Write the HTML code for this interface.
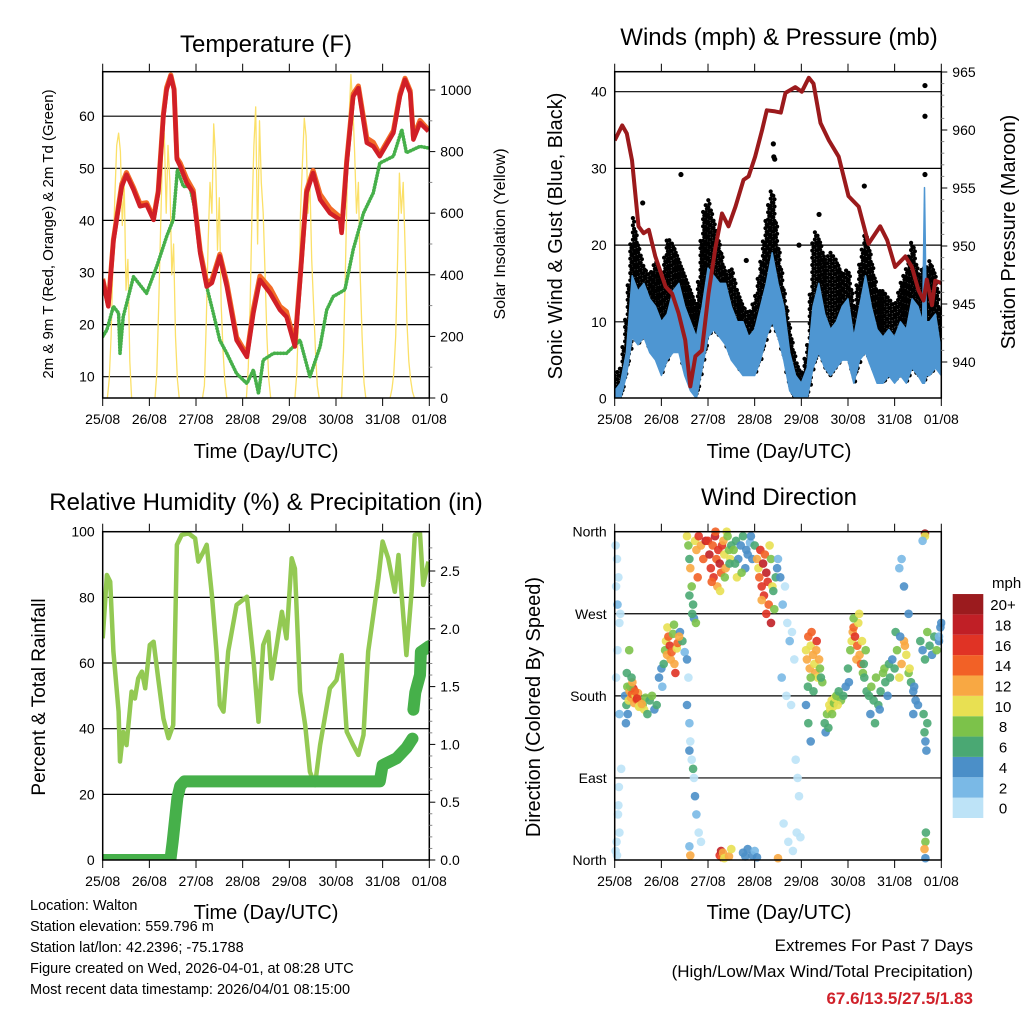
<!DOCTYPE html>
<html><head><meta charset="utf-8"><style>
body{margin:0;background:#fff;}
svg{display:block;font-family:"Liberation Sans",Arial,sans-serif;}
</style></head><body>
<svg id="s" width="1024" height="1024" viewBox="0 0 1024 1024" xmlns="http://www.w3.org/2000/svg">
<rect width="1024" height="1024" fill="#fff"/>
<g font-size="24" text-anchor="middle" fill="#000">
<text x="266" y="52">Temperature (F)</text>
<text x="779" y="45">Winds (mph) &amp; Pressure (mb)</text>
<text x="266" y="510">Relative Humidity (%) &amp; Precipitation (in)</text>
<text x="779" y="505">Wind Direction</text>
</g>
<g font-size="20" text-anchor="middle">
<text x="266" y="458">Time (Day/UTC)</text>
<text x="779" y="458">Time (Day/UTC)</text>
<text x="266" y="919">Time (Day/UTC)</text>
<text x="779" y="919">Time (Day/UTC)</text>
<text transform="translate(53,234) rotate(-90)" font-size="15">2m &amp; 9m T (Red, Orange) &amp; 2m Td (Green)</text>
<text transform="translate(505,234) rotate(-90)" font-size="16">Solar Insolation (Yellow)</text>
<text transform="translate(562,236) rotate(-90)">Sonic Wind &amp; Gust (Blue, Black)</text>
<text transform="translate(1015,232) rotate(-90)">Station Pressure (Maroon)</text>
<text transform="translate(45,697) rotate(-90)" font-size="19">Percent &amp; Total Rainfall</text>
<text transform="translate(540,707) rotate(-90)">Direction (Colored By Speed)</text>
</g>
<g font-size="14.5">
<text x="30" y="910">Location: Walton</text>
<text x="30" y="931">Station elevation: 559.796 m</text>
<text x="30" y="952">Station lat/lon: 42.2396; -75.1788</text>
<text x="30" y="973">Figure created on Wed, 2026-04-01, at 08:28 UTC</text>
<text x="30" y="994">Most recent data timestamp: 2026/04/01 08:15:00</text>
</g>
<g font-size="17" text-anchor="end">
<text x="973" y="951">Extremes For Past 7 Days</text>
<text x="973" y="977">(High/Low/Max Wind/Total Precipitation)</text>
<text x="973" y="1004" fill="#d0212a" font-weight="bold">67.6/13.5/27.5/1.83</text>
</g>
<g id="g"></g>
</svg>
<script>
// ---------- data ----------
const dayLabels=["25/08","26/08","27/08","28/08","29/08","30/08","31/08","01/08"];
const tempT=[0,0.12,0.23,0.41,0.51,0.66,0.8,0.94,1.09,1.19,1.3,1.37,1.46,1.53,1.59,1.66,1.8,1.94,2.09,2.23,2.34,2.51,2.66,2.87,3.09,3.23,3.37,3.59,3.8,3.94,4.12,4.23,4.37,4.51,4.66,4.87,5.09,5.12,5.23,5.37,5.48,5.66,5.8,5.94,6.23,6.37,6.48,6.59,6.66,6.8,6.98];
const tempRed=[28.6,23.5,36,46.5,48.8,45.9,42.7,43,40.1,45.3,60,65,67.7,65,51.7,50.4,47.2,45.3,33.7,27.3,28,33.1,27.3,17,13.8,22.2,28.6,26,22.8,21.5,15.8,28.6,45.3,49.1,44,41.4,40.1,37.6,51,63.8,65.4,54.9,54.2,52.3,56.8,63.8,67,64.5,55.5,58.7,57.1];
const tempOrange=[28.8,23.8,36.3,47,49.2,46.3,43.2,43.4,40.5,45.6,60.4,65.5,67.9,65.2,52,51,48,45.8,34.2,28,28.6,33.5,28,17.6,14.2,23,29.3,27,23.5,22.5,16.4,29,45.8,49.6,45,42.3,40.6,38,51.4,64.3,65.8,55.8,55,52.7,57.2,64.2,67.3,64.9,56,59.2,57.4];
const dewT=[0,0.09,0.23,0.34,0.37,0.44,0.66,0.94,1.16,1.37,1.51,1.6,1.73,1.87,2.01,2.09,2.23,2.37,2.51,2.66,2.87,3.09,3.23,3.34,3.44,3.66,3.94,4.23,4.44,4.66,4.8,4.94,5.19,5.37,5.59,5.8,5.94,6.23,6.41,6.51,6.8,6.98];
const dewV=[17.7,19,23.5,22.2,14.5,21.5,29.2,26,31.2,36.9,40.1,49.7,46.5,46.5,40.8,34.4,27.3,22.2,17,14.5,10.6,8.7,11.3,6.8,13.2,14.5,14.5,17,10,15.8,22.8,25.4,26.7,34.4,41.4,45.3,51,52.3,57.4,53,54.2,53.9];
const solarStart=[0.10,1.12,2.14,3.08,4.12,5.12,6.16];
const solarVals=[
 [0,60,200,450,650,820,860,800,560,700,350,450,120,0],
 [0,80,300,550,780,860,600,820,700,400,500,200,60,0],
 [0,40,250,500,700,600,890,780,480,650,300,150,50,0],
 [0,100,300,600,820,945,500,900,700,600,400,200,60,0],
 [0,80,280,600,760,908,850,600,700,450,300,150,40,0],
 [0,150,400,700,900,1050,950,800,600,700,400,200,50,0],
 [0,30,80,200,450,730,600,700,500,250,120,60,20,0]];
const solarStep=0.04;

const windT=[0,0.125,0.25,0.375,0.5,0.625,0.75,0.875,1,1.125,1.25,1.375,1.5,1.625,1.75,1.875,2,2.125,2.25,2.375,2.5,2.625,2.75,2.875,3,3.125,3.25,3.375,3.5,3.625,3.75,3.875,4,4.125,4.25,4.375,4.5,4.625,4.75,4.875,5,5.125,5.25,5.375,5.5,5.625,5.75,5.875,6,6.125,6.25,6.375,6.5,6.6,6.64,6.68,6.75,6.875,7];
const windHi=[1,2,6,16,14,15,13,12,10,11,14,15,12,10,8,12,17,16,15,15,12,10,10,8,9,12,15,19,15,12,6,3,2,4,12,15,11,9,10,12,13,8,12,16,12,9,8,9,8,10,9,13,12,10,27.5,10,10,11,6];
const windLo=[0,0,3,8,7,8,6,5,3,5,6,6,3,1,0,4,8,9,8,7,5,4,3,3,3,5,8,10,8,5,1,0,0,0,4,6,4,3,4,5,5,2,5,6,4,2,2,3,2,3,2,4,3,2,2,3,3,4,3];
const gustHi=[3,4,12,24,20,17,16,18,16,21,20,18,16,14,12,24,26,23,20,16,17,14,12,11,13,18,24,28,20,14,9,5,3,7,22,21,18,19,18,16,17,12,18,22,18,14,14,13,12,15,17,21,16,17,17,17,18,16,10];
const gustOutT=[0.6,1.42,2.82,3.4,3.41,3.43,5.35,6.65,6.65,6.65,4.38,3.95];
const gustOutV=[25.5,29.2,18,33.2,31.5,31.2,27.7,40.8,36.8,29.2,24,20];
const presT=[0,0.16,0.26,0.37,0.51,0.62,0.73,0.87,1.09,1.23,1.37,1.51,1.62,1.73,1.87,2.01,2.16,2.3,2.44,2.59,2.76,2.87,3.01,3.16,3.26,3.44,3.56,3.66,3.87,4.01,4.16,4.26,4.41,4.59,4.8,5.01,5.23,5.44,5.69,5.84,6.01,6.23,6.37,6.51,6.62,6.69,6.8,6.87,7.0];
const presV=[959.1,960.4,959.7,957.4,951.7,951.1,951.4,949.1,946.5,945.9,944.2,941.9,937.9,940.5,941,945.9,949.9,952.8,951.7,953.4,955.7,956,957.7,960,961.7,961.6,961.5,963.2,963.7,963.3,964.5,964,960.6,959.1,957.7,954.3,953.4,950.2,951.7,950.5,948.2,949.1,948.2,946.2,945.3,947.1,944.9,947,946.8];

const rhT=[0,0.09,0.16,0.23,0.34,0.37,0.44,0.51,0.62,0.69,0.76,0.84,0.91,1.01,1.09,1.19,1.3,1.41,1.51,1.59,1.69,1.84,1.98,2.05,2.16,2.23,2.34,2.44,2.51,2.59,2.69,2.87,3.09,3.23,3.34,3.44,3.55,3.62,3.84,3.94,4.05,4.12,4.23,4.34,4.44,4.55,4.66,4.87,5.01,5.12,5.23,5.37,5.48,5.59,5.69,5.8,5.91,6.0,6.12,6.26,6.34,6.51,6.62,6.69,6.8,6.87,6.98];
const rhV=[67.5,86.8,84.8,63.5,45.2,30,39,35,51.3,49.2,55.3,57.4,52.3,65.5,66.5,55.3,43.1,37.1,41.1,96,99,99.5,98,90.9,93.9,96,80.7,63.5,47.2,45.2,63.5,77.7,80.2,61.4,42.1,65.5,69.5,55.3,75.6,67.5,91.9,88.8,51.3,41.1,26.9,22.8,35,52.3,54.8,62.4,39.1,35,32,38.1,63.5,74.6,85.8,97,91.9,81.7,92.9,62.4,81.7,99,99.5,83.8,90.9];
const precT=[0,1.45,1.5,1.6,1.66,1.75,5.94,6.0,6.3,6.51,6.64,null,6.66,6.7,6.8,6.82,7.0];
const precV=[0,0,0.16,0.54,0.64,0.68,0.68,0.82,0.88,0.97,1.05,null,1.3,1.45,1.6,1.8,1.85];

const dirT=[0.02,0.03,0.05,0.06,0.08,0.1,0.12,0.04,0.07,0.09,0.02,0.05,0.08,0.1,0.03,0.06,0.1,0.14,
0.22,0.25,0.27,0.3,0.32,0.35,0.37,0.4,0.42,0.45,0.47,0.5,0.52,0.55,0.6,0.63,0.66,0.7,0.75,0.8,0.85,0.9,0.28,0.33,0.38,0.43,0.48,0.53,0.58,0.24,0.26,0.31,0.36,
0.95,1.0,1.05,1.08,1.1,1.12,1.15,1.18,1.2,1.22,1.25,1.28,1.3,1.33,1.35,1.4,1.45,1.5,1.55,1.02,1.13,1.27,1.38,
1.55,1.6,1.62,1.65,1.7,1.72,1.75,1.8,1.85,1.6,1.68,1.58,
1.55,1.58,1.6,1.62,1.65,1.68,1.7,1.72,1.75,1.78,1.8,1.85,1.9,1.95,1.6,1.66,1.74,
2.0,2.03,2.06,2.1,2.12,2.15,2.18,2.2,2.22,2.25,2.28,2.3,2.33,2.35,2.38,2.4,2.42,2.45,2.48,2.5,2.08,2.16,2.26,2.36,2.46,
2.55,2.6,2.65,2.7,2.75,2.8,2.85,2.9,2.95,3.0,2.62,2.72,2.82,2.92,2.58,
3.05,3.08,3.1,3.12,3.15,3.18,3.2,3.22,3.25,3.28,3.3,3.32,3.35,3.38,3.4,3.42,3.45,3.48,3.15,3.25,3.35,
3.5,3.55,3.6,3.65,3.7,3.75,3.8,3.85,3.58,3.68,3.78,3.88,3.92,3.95,3.62,3.72,3.82,3.9,3.98,
4.1,4.12,4.15,4.18,4.2,4.22,4.25,4.28,4.3,4.33,4.35,4.38,4.4,4.45,4.14,4.2,4.26,4.32,4.42,4.1,4.15,4.2,
4.5,4.55,4.6,4.62,4.65,4.68,4.7,4.72,4.75,4.8,4.85,4.9,4.52,4.58,4.66,4.78,4.95,
5.0,5.05,5.08,5.1,5.12,5.15,5.18,5.2,5.22,5.25,5.28,5.3,5.32,5.35,5.38,5.02,5.12,5.24,5.34,
5.4,5.45,5.5,5.55,5.6,5.65,5.7,5.75,5.8,5.85,5.9,5.48,5.58,5.68,5.78,5.88,
5.95,6.0,6.05,6.1,6.15,6.2,6.25,6.3,6.35,6.4,6.45,6.5,6.02,6.12,6.22,6.32,6.42,6.1,6.15,6.2,6.3,6.4,
6.55,6.6,6.65,6.7,6.75,6.8,6.85,6.9,6.95,7.0,6.62,6.64,6.66,6.68,6.7,6.65,6.65,6.66,6.67,6.64,6.66,6.95,6.98,6.6,
1.6,1.62,2.25,2.28,2.3,2.32,2.35,2.45,2.5,2.75,2.8,2.85,2.95,3.0,3.05,3.5];
const dirD=[345,300,330,280,310,260,270,20,50,80,10,5,60,30,200,230,160,100,
180,170,190,175,185,178,182,188,172,180,176,183,168,174,170,165,178,160,175,180,165,170,160,190,195,185,177,169,171,150,205,230,200,
200,210,215,230,240,225,245,235,220,228,248,215,205,232,238,250,240,228,220,190,255,258,245,
170,150,130,110,90,70,50,30,20,120,100,200,
355,345,330,320,300,280,265,350,340,310,355,345,330,350,290,270,260,
350,335,320,345,310,355,330,300,340,325,315,345,350,335,320,360,355,340,330,345,305,360,295,310,325,
340,350,330,345,355,320,335,348,330,345,310,315,340,355,325,
330,320,310,340,300,325,290,335,315,305,280,345,330,300,295,275,310,320,285,270,260,
330,310,280,300,260,240,250,220,200,180,170,110,90,70,40,20,10,30,25,
230,220,245,210,235,250,225,215,205,240,200,220,210,195,190,200,185,230,200,170,150,130,
150,160,170,165,175,168,172,178,180,185,175,180,140,145,160,170,190,
210,230,240,250,255,245,220,235,260,225,215,240,205,200,230,195,265,270,215,
185,180,190,175,200,170,185,205,195,180,200,160,150,165,210,215,
220,210,230,200,215,240,225,205,195,185,175,170,250,245,235,210,190,320,330,300,270,160,
240,230,220,250,235,225,245,230,240,260,160,140,130,120,150,358,355,20,30,12,2,245,255,350,
15,5,5,10,3,8,2,4,12,8,4,12,5,10,3,2];
const dirS=[0,1,0,2,1,0,1,0,0,1,0,1,0,0,1,0,2,0,
4,6,8,10,12,12,14,16,12,10,14,12,10,12,8,10,8,6,6,8,4,6,4,8,12,14,16,10,12,4,6,8,6,
4,4,6,8,10,12,14,16,12,14,8,12,16,10,14,4,6,2,4,2,10,8,12,
4,2,0,0,1,4,2,0,0,4,6,1,
10,8,6,12,8,6,4,10,12,14,16,12,14,18,6,6,8,
16,18,16,14,16,18,14,12,16,18,14,16,12,10,12,10,8,8,10,6,14,14,10,8,6,
8,6,4,4,6,4,4,2,4,6,10,8,4,4,6,
12,10,14,16,16,18,16,14,18,16,14,10,8,10,6,8,6,4,12,16,18,
2,4,2,0,0,2,0,0,2,0,0,0,0,1,0,0,0,1,0,
10,12,14,12,10,14,12,10,12,16,10,12,8,8,6,8,6,12,6,4,6,4,
6,8,10,10,10,10,8,10,8,6,8,6,4,6,8,10,4,
6,8,10,12,14,16,12,14,10,12,14,10,8,6,8,4,8,10,6,
6,6,8,6,8,6,6,8,6,4,6,4,6,4,8,6,
4,6,8,10,12,12,10,8,6,4,4,4,6,4,12,10,4,2,2,4,4,4,
6,4,6,8,6,4,6,8,4,4,6,6,4,4,6,20,10,8,6,12,4,2,4,2,
2,12,16,18,14,12,10,12,10,4,4,4,4,2,4,12];
const binLabels=["0","2","4","6","8","10","12","14","16","18","20+"];
const binColors=["#bde3f7","#7ab9e6","#4b8fc8","#4aa873","#7cc24a","#e8e052","#f8a843","#f26126","#e03325","#c01f26","#9b1b1e"];

// ---------- helpers ----------
const NS="http://www.w3.org/2000/svg";
const G=document.getElementById('g');
function mk(tag,attrs,parent){const e=document.createElementNS(NS,tag);for(const k in attrs)e.setAttribute(k,attrs[k]);(parent||G).appendChild(e);return e;}
function txt(x,y,s,anchor,size,parent){const e=mk('text',{x:x,y:y,'text-anchor':anchor,'font-size':size},parent);e.textContent=s;return e;}

const L=102.7,R=429.3,L2=614.7,R2=941.3;
const xA=d=>L+d*(R-L)/7, xB=d=>L2+d*(R2-L2)/7;
const yT=v=>376.7-(v-10)*5.21, yS=v=>398-v*0.308;
const yW=v=>398.5-v*7.67, yP=v=>72+(965-v)*11.6;
const yR=v=>860-v*3.283, yPr=v=>860-v*115.6;
const yD=v=>860-v*0.912;

function frame(x0,x1,y0,y1,xf,name){
  const g=mk('g',{});
  
  
  dayLabels.forEach((lab,i)=>{
    const x=xf(i);
    mk('line',{x1:x,x2:x,y1:y0-8,y2:y0,stroke:'#000','stroke-width':1},g);
    mk('line',{x1:x,x2:x,y1:y1,y2:y1+8,stroke:'#000','stroke-width':1},g);
    const t=txt(x,y1+26,lab,'middle',14,g);
    
    
  });
}
function box(x0,x1,y0,y1,name){
  const r=mk('rect',{x:x0,y:y0,width:x1-x0,height:y1-y0,fill:'none',stroke:'#000','stroke-width':1.5});
  
  
}
function hgrid(vals,yf,x0,x1,labels,lx,anchor,name){
  const g=mk('g',{});
  
  
  vals.forEach((v,i)=>{
    const y=yf(v);
    if(x1!==null) mk('line',{x1:x0,x2:x1,y1:y,y2:y,stroke:'#000','stroke-width':1.2},g);
    if(labels){const t=txt(lx,y+5,labels[i],anchor,14,g);
      
      }
  });
  return g;
}
function rticks(vals,yf,x,labels,lx,minor,name){
  const g=mk('g',{});
  
  
  vals.forEach((v,i)=>{const y=yf(v);
    mk('line',{x1:x,x2:x+6,y1:y,y2:y,stroke:'#000','stroke-width':1},g);
    const t=txt(lx,y+5,labels[i],'start',14,g);
    
    });
  minor.forEach(v=>{const y=yf(v);mk('line',{x1:x,x2:x+3,y1:y,y2:y,stroke:'#888','stroke-width':1},g);});
}
function path(xs,ys,xf,yf){let d='',pen=false;xs.forEach((t,i)=>{if(t===null||ys[i]===null){pen=false;return;}d+=(pen?'L':'M')+xf(t).toFixed(1)+','+yf(ys[i]).toFixed(1);pen=true;});return d;}
function clip(id,x0,x1,y0,y1){const c=mk('clipPath',{id:id});mk('rect',{x:x0,y:y0,width:x1-x0,height:y1-y0},c);}

// ---------- Panel 1: temperature ----------
clip('c1',L,R,71.7,398);
hgrid([10,20,30,40,50,60],yT,L,R,['10','20','30','40','50','60'],L-8,'end','temp-gridlines');
const p1=mk('g',{'clip-path':'url(#c1)'});


solarStart.forEach((s,k)=>{
  const ts=solarVals[k].map((v,i)=>s+i*solarStep);
  const e=mk('path',{d:path(ts,solarVals[k],xA,yS),fill:'none',stroke:'#fbe068','stroke-width':1.3,'stroke-linejoin':'round'},p1);
  
  
});
let e;
e=mk('path',{d:path(dewT,dewV,xA,yT),fill:'none',stroke:'#46b04a','stroke-width':3.6,'stroke-linecap':'round','stroke-dasharray':'0.5 2.5','stroke-linejoin':'round'},p1);


e=mk('path',{d:path(tempT,tempOrange,xA,yT),fill:'none',stroke:'#f26b27','stroke-width':5,'stroke-linejoin':'round'},p1);


e=mk('path',{d:path(tempT,tempRed,xA,yT),fill:'none',stroke:'#d11f27','stroke-width':4.5,'stroke-linejoin':'round'},p1);


box(L,R,71.7,398,'temperature');
frame(L,R,71.7,398,xA,'temperature');
rticks([0,200,400,600,800,1000],yS,R,['0','200','400','600','800','1000'],R+11,[100,300,500,700,900],'solar-axis');

// ---------- Panel 2: winds ----------
clip('c2',L2,R2,71.7,398);
hgrid([10,20,30,40],yW,L2,R2,['10','20','30','40'],L2-8,'end','wind-gridlines');
hgrid([0],yW,L2,null,['0'],L2-8,'end','wind-zero-label');
const p2=mk('g',{'clip-path':'url(#c2)'});


const gust=mk('g',{fill:'#000'},p2);


function interp(ts,vs,t){for(let i=1;i<ts.length;i++){if(t<=ts[i]){const f=(t-ts[i-1])/(ts[i]-ts[i-1]);return vs[i-1]+f*(vs[i]-vs[i-1]);}}return vs[vs.length-1];}
for(let px=L2;px<=R2;px+=2.6){
  const d=(px-L2)*7/(R2-L2);
  const hi=interp(windT,gustHi,d), lo=interp(windT,windLo,d);
  let k=0;
  for(let y=yW(hi);y<=yW(lo);y+=3.6){mk('circle',{cx:(px+((k++)%2)*1.2).toFixed(1),cy:y.toFixed(1),r:2.1},gust);}
}
gustOutT.forEach((t,i)=>{mk('circle',{cx:xB(t),cy:yW(gustOutV[i]),r:2.6},gust);});
let bd=path(windT,windHi,xB,yW);
const rev=windT.slice().reverse(), revLo=windLo.slice().reverse();
bd+=path(rev,revLo,xB,yW).replace(/^M/,'L')+'Z';
e=mk('path',{d:bd,fill:'#4e96d2',stroke:'#4e96d2','stroke-width':1.5,'stroke-linejoin':'round'},p2);


e=mk('path',{d:path(presT,presV,xB,yP),fill:'none',stroke:'#9b1a1c','stroke-width':4,'stroke-linejoin':'round'},p2);


box(L2,R2,71.7,398,'winds');
frame(L2,R2,71.7,398,xB,'winds');
rticks([940,945,950,955,960,965],yP,R2,['940','945','950','955','960','965'],R2+11,[941,942,943,944,946,947,948,949,951,952,953,954,956,957,958,959,961,962,963,964],'pressure-axis');

// ---------- Panel 3: RH ----------
clip('c3',L,R,531.7,860);
hgrid([20,40,60,80],yR,L,R,['20','40','60','80'],L-8,'end','rh-gridlines');
hgrid([0,100],yR,L,null,['0','100'],L-8,'end','rh-end-labels');
const p3=mk('g',{'clip-path':'url(#c3)'});


e=mk('path',{d:path(rhT,rhV,xA,yR),fill:'none',stroke:'#93c953','stroke-width':4.5,'stroke-linejoin':'round'},p3);


e=mk('path',{d:path(precT,precV,xA,yPr),fill:'none',stroke:'#46b04a','stroke-width':12,'stroke-linecap':'round','stroke-linejoin':'round'},p3);


box(L,R,531.7,860,'rh');
frame(L,R,531.7,860,xA,'rh');
rticks([0,0.5,1,1.5,2,2.5],yPr,R,['0.0','0.5','1.0','1.5','2.0','2.5'],R+11,[0.1,0.2,0.3,0.4,0.6,0.7,0.8,0.9,1.1,1.2,1.3,1.4,1.6,1.7,1.8,1.9,2.1,2.2,2.3,2.4,2.6,2.7],'precip-axis');

// ---------- Panel 4: wind direction ----------
clip('c4',L2-4,R2+4,527,864);
hgrid([90,180,270],yD,L2,R2,null,0,'end','dir-gridlines');
hgrid([0,90,180,270,360],yD,L2,null,['North','East','South','West','North'],L2-8,'end','dir-labels');
const p4=mk('g',{'clip-path':'url(#c4)'});


dirT.forEach((t,i)=>{
  const b=Math.min(10,Math.floor(dirS[i]/2));
  const c=mk('circle',{cx:xB(t).toFixed(1),cy:yD(dirD[i]).toFixed(1),r:4.3,fill:binColors[b],'fill-opacity':0.9},p4);
  
  
});
box(L2,R2,531.7,860,'direction');
frame(L2,R2,531.7,860,xB,'direction');
// colorbar
const cb=mk('g',{});


txt(992,588,'mph','start',15,cb);
binColors.forEach((c,i)=>{
  const y=818-(i+1)*20.36;
  const r=mk('rect',{x:952.7,y:y,width:30.6,height:20.36,fill:c},cb);
  
  
  const t=txt(1003,y+16,binLabels[i],'middle',15,cb);
  
  
});
</script>
</body></html>
